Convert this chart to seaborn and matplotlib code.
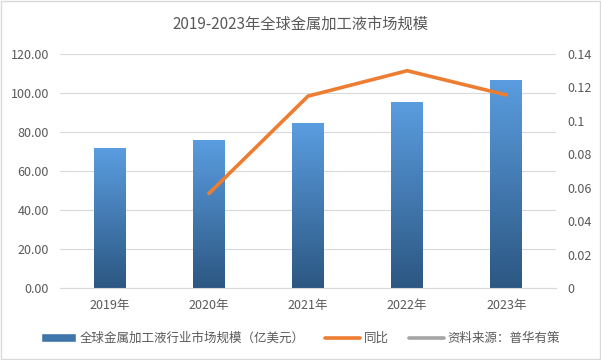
import numpy as np
import pandas as pd
import seaborn as sns
import matplotlib.pyplot as plt
from matplotlib.colors import LinearSegmentedColormap
from matplotlib.lines import Line2D
from matplotlib.patches import Patch

years = ['2019年', '2020年', '2021年', '2022年', '2023年']
market_size = [71.6, 75.8, 84.6, 95.5, 106.8]
yoy = [np.nan, 0.0565, 0.1148, 0.1300, 0.1155]

sns.set_style('white')
plt.rcParams['font.family'] = ['Noto Sans CJK SC', 'DejaVu Sans']

df = pd.DataFrame({'year': years, 'size': market_size, 'yoy': yoy})

fig = plt.figure(figsize=(6.01, 3.6), dpi=100)
ax = fig.add_axes([0.1, 0.2, 0.825, 0.65])

sns.barplot(data=df, x='year', y='size', ax=ax, width=0.32, color='#4a86c0')

# vertical gradient on the bars
cmap = LinearSegmentedColormap.from_list('bar', ['#2c5782', '#5a9de0'])
grad = np.linspace(0, 1, 256).reshape(-1, 1)
for p in ax.patches:
    x0, y0 = p.get_x(), p.get_y()
    w, h = p.get_width(), p.get_height()
    im = ax.imshow(grad, cmap=cmap, origin='lower', aspect='auto',
                   extent=[x0, x0 + w, y0, y0 + h], zorder=2)
    im.set_clip_path(p)
    p.set_alpha(0)
ax.set_xlim(-0.5, 4.5)
ax.set_ylim(0, 120)
ax.set_yticks(np.arange(0, 121, 20))
ax.set_yticklabels([f'{v:.2f}' for v in np.arange(0, 121, 20)])
ax.grid(axis='y', color='#d9d9d9', linewidth=0.8)
ax.set_axisbelow(True)
ax.set_xlabel('')
ax.set_ylabel('')
for s in ['top', 'right', 'left']:
    ax.spines[s].set_visible(False)
ax.spines['bottom'].set_color('#d9d9d9')
ax.tick_params(axis='both', length=0, labelsize=9, colors='#595959', pad=8)

ax2 = ax.twinx()
sns.lineplot(x=np.arange(len(years)), y=df['yoy'], ax=ax2, color='#ed7d31', linewidth=2.6)
ax2.set_ylim(0, 0.14)
ax2.set_yticks(np.arange(0, 0.141, 0.02))
ax2.set_yticklabels(['0', '0.02', '0.04', '0.06', '0.08', '0.1', '0.12', '0.14'])
ax2.set_ylabel('')
for s in ['top', 'right', 'left', 'bottom']:
    ax2.spines[s].set_visible(False)
ax2.tick_params(axis='y', length=0, labelsize=9, colors='#595959', pad=8)

fig.suptitle('2019-2023年全球金属加工液市场规模', y=0.955, fontsize=11, color='#595959')

handles = [Patch(facecolor='#3f75ab', label='全球金属加工液行业市场规模（亿美元）'),
           Line2D([0], [0], color='#ed7d31', lw=2.6, label='同比'),
           Line2D([0], [0], color='#a5a5a5', lw=2.6, label='资料来源：普华有策')]
fig.legend(handles=handles, loc='lower center', bbox_to_anchor=(0.5, 0.01), ncol=3,
           frameon=False, fontsize=9, labelcolor='#595959', handlelength=2.8,
           handletextpad=0.3, columnspacing=1.6)

fig.patches.append(plt.Rectangle((0.002, 0.003), 0.996, 0.994, transform=fig.transFigure,
                                 fill=False, edgecolor='#d9d9d9', linewidth=1))

fig.savefig('out.png', dpi=100)
